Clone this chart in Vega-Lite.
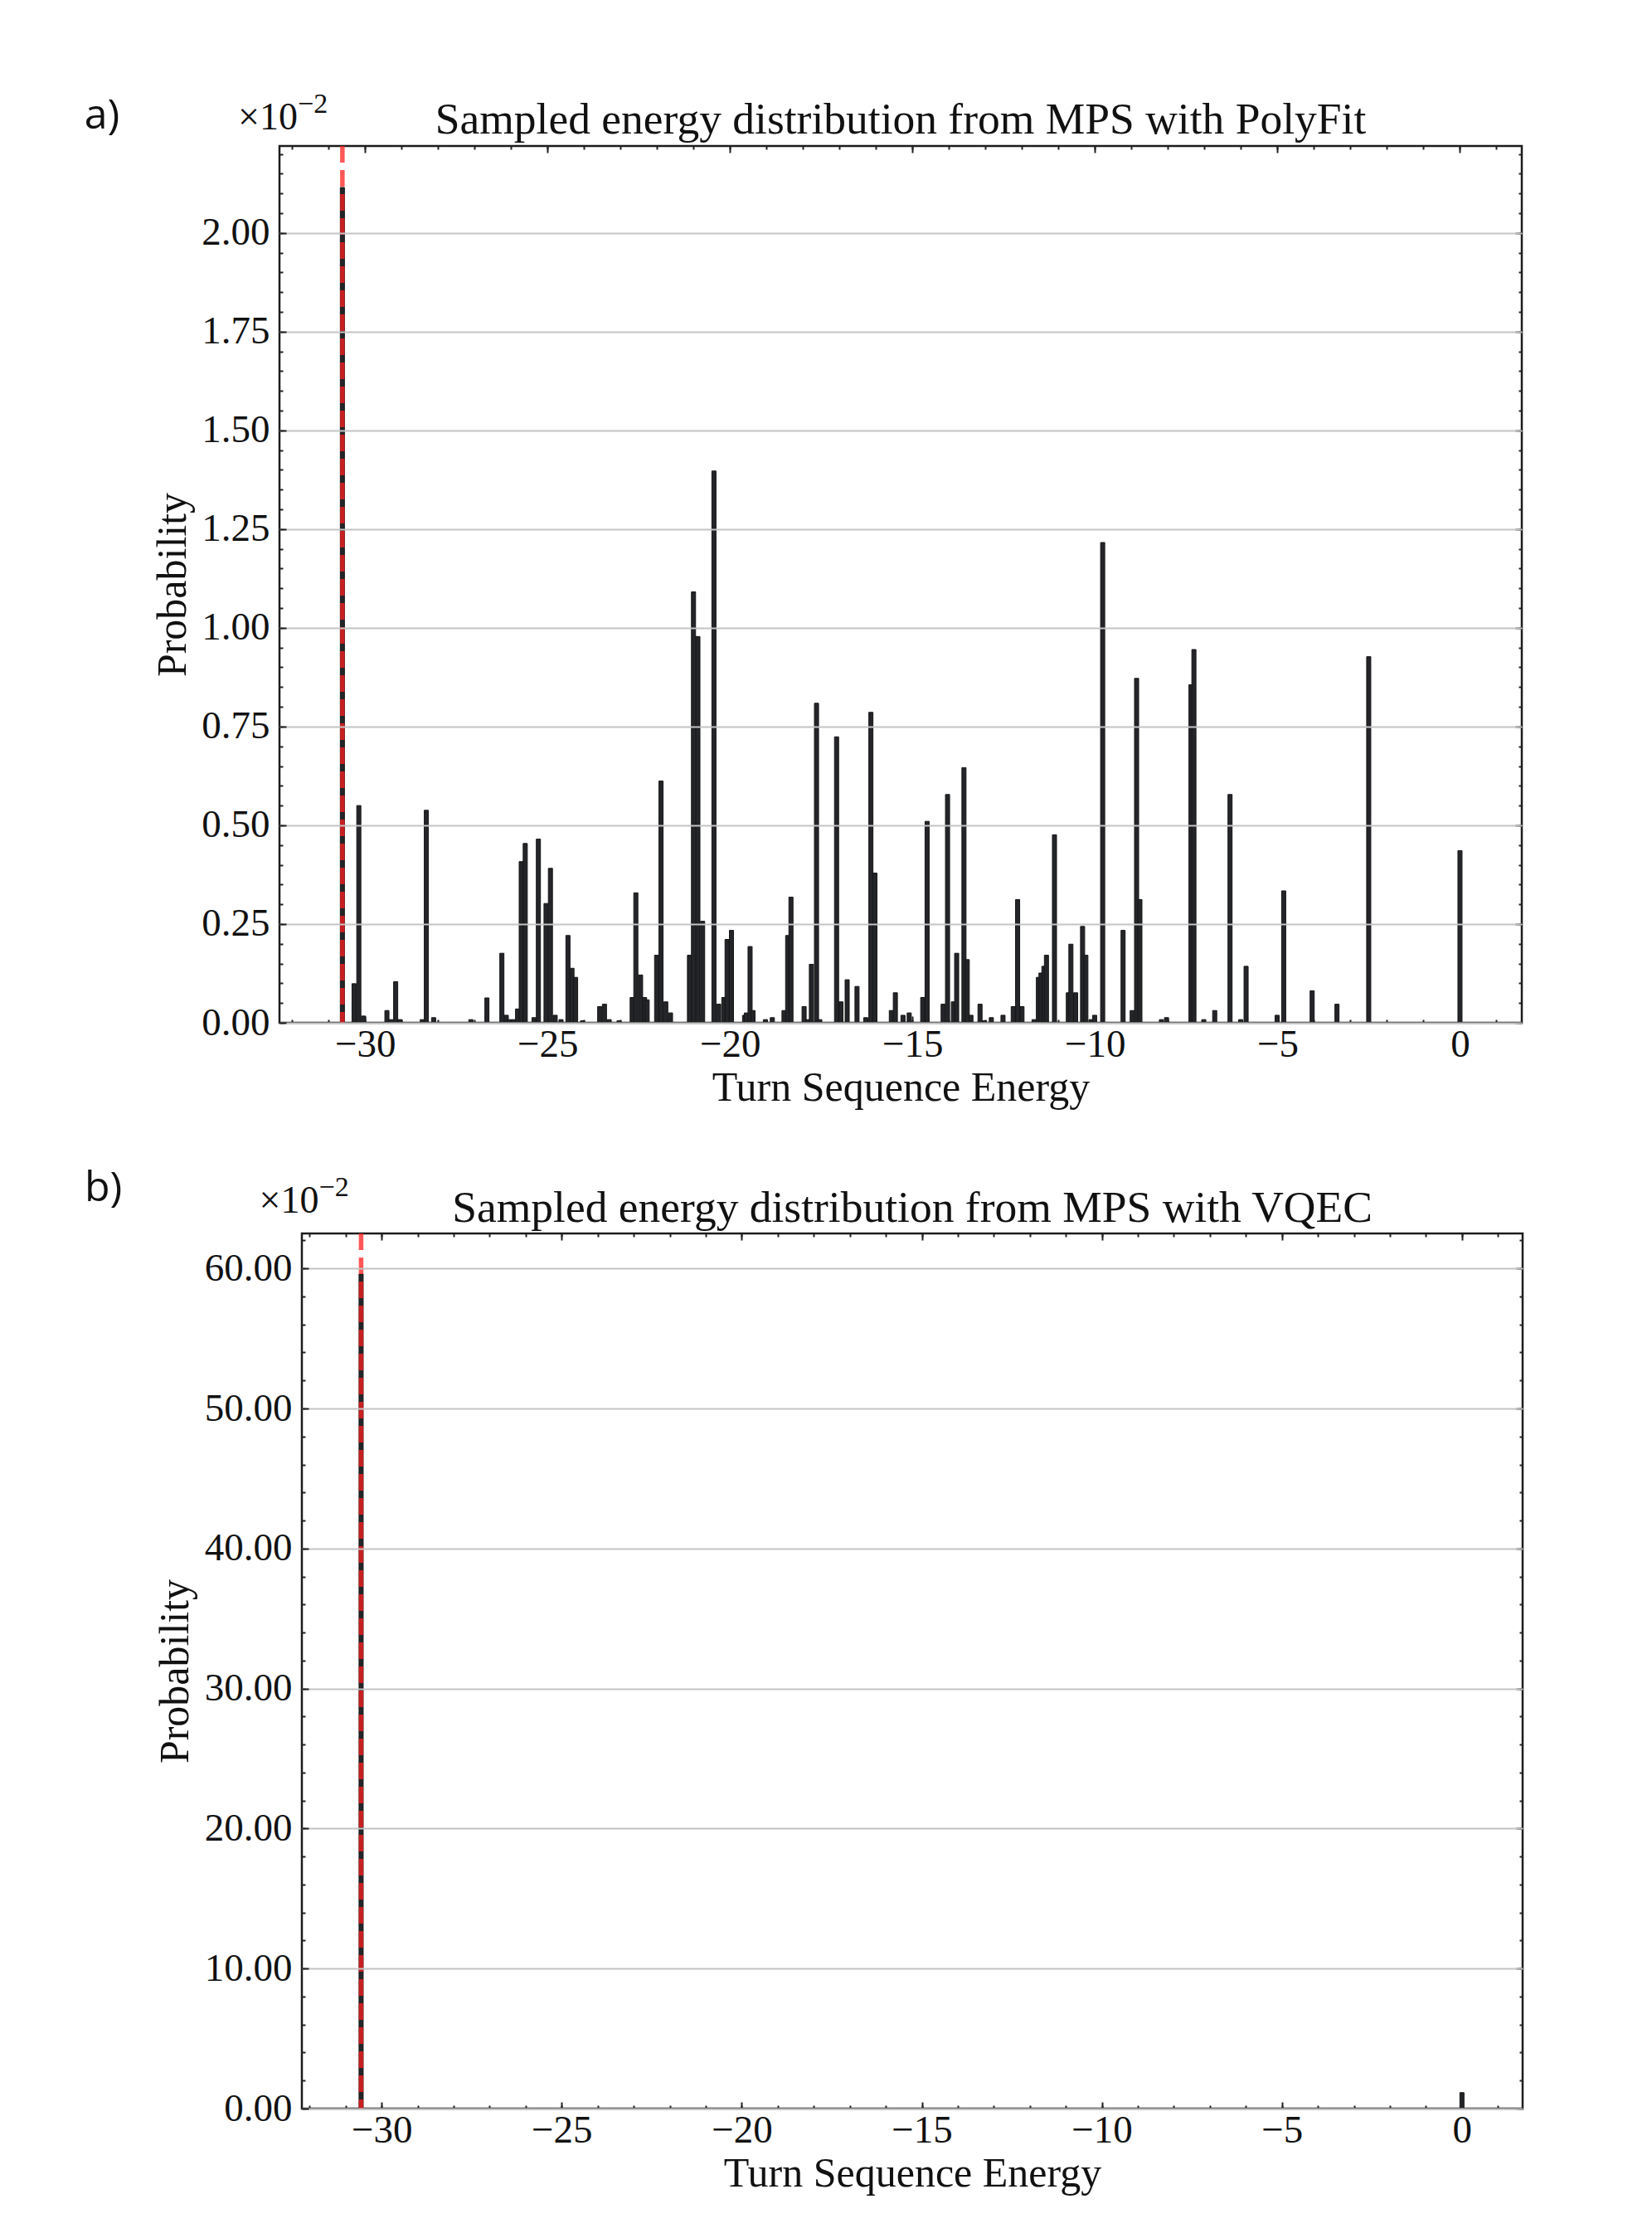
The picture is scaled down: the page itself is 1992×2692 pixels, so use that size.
{
  "$schema": "https://vega.github.io/schema/vega-lite/v6.json",
  "background": "white",
  "padding": {"left": 93, "top": 108, "right": 0, "bottom": 0},
  "config": {
    "font": "Liberation Serif",
    "view": {"stroke": "#1c1c1c", "strokeWidth": 2.5},
    "axis": {"domain": false, "grid": false, "labelFont": "Liberation Serif", "labelFontSize": 47, "labelColor": "#111111", "titleFont": "Liberation Serif", "titleFontSize": 50, "titleFontWeight": "normal", "titleColor": "#111111", "tickColor": "#222222", "tickWidth": 2}
  },
  "spacing": 68,
  "vconcat": [
    {"spacing": 0, "hconcat": [
    {"width": 1, "height": 1, "view": {"stroke": null}, "data": {"values": [{}]}, "mark": {"type": "point", "opacity": 0}},
    {
      "width": 1498,
      "height": 1057,
      "data": {"values": [
        {"E": -30.62, "P": 2.115}, {"E": -30.30, "P": 0.099}, {"E": -30.17, "P": 0.550}, {"E": -30.04, "P": 0.017},
        {"E": -29.40, "P": 0.031}, {"E": -29.29, "P": 0.008}, {"E": -29.16, "P": 0.104}, {"E": -29.04, "P": 0.008},
        {"E": -28.43, "P": 0.008}, {"E": -28.32, "P": 0.538}, {"E": -28.12, "P": 0.013}, {"E": -27.10, "P": 0.008},
        {"E": -26.66, "P": 0.063}, {"E": -26.25, "P": 0.176}, {"E": -26.13, "P": 0.019}, {"E": -26.05, "P": 0.008},
        {"E": -25.93, "P": 0.008}, {"E": -25.82, "P": 0.035}, {"E": -25.72, "P": 0.408}, {"E": -25.61, "P": 0.454},
        {"E": -25.37, "P": 0.013}, {"E": -25.25, "P": 0.465}, {"E": -25.04, "P": 0.302}, {"E": -24.92, "P": 0.391},
        {"E": -24.79, "P": 0.019}, {"E": -24.63, "P": 0.008}, {"E": -24.44, "P": 0.221}, {"E": -24.33, "P": 0.138},
        {"E": -24.23, "P": 0.115}, {"E": -24.04, "P": 0.005}, {"E": -23.57, "P": 0.041}, {"E": -23.44, "P": 0.047},
        {"E": -23.31, "P": 0.008}, {"E": -23.04, "P": 0.005}, {"E": -22.68, "P": 0.064}, {"E": -22.58, "P": 0.329},
        {"E": -22.45, "P": 0.121}, {"E": -22.34, "P": 0.064}, {"E": -22.27, "P": 0.058}, {"E": -22.01, "P": 0.171},
        {"E": -21.89, "P": 0.612}, {"E": -21.76, "P": 0.053}, {"E": -21.63, "P": 0.025}, {"E": -21.11, "P": 0.171},
        {"E": -21.00, "P": 1.091}, {"E": -20.88, "P": 0.978}, {"E": -20.75, "P": 0.257}, {"E": -20.44, "P": 1.397},
        {"E": -20.31, "P": 0.047}, {"E": -20.17, "P": 0.064}, {"E": -20.08, "P": 0.211}, {"E": -19.96, "P": 0.234},
        {"E": -19.60, "P": 0.019}, {"E": -19.55, "P": 0.025}, {"E": -19.45, "P": 0.193}, {"E": -19.37, "P": 0.031},
        {"E": -19.03, "P": 0.008}, {"E": -18.84, "P": 0.013}, {"E": -18.52, "P": 0.031}, {"E": -18.42, "P": 0.221},
        {"E": -18.33, "P": 0.318}, {"E": -17.97, "P": 0.041}, {"E": -17.87, "P": 0.008}, {"E": -17.77, "P": 0.148},
        {"E": -17.63, "P": 0.809}, {"E": -17.54, "P": 0.008}, {"E": -17.08, "P": 0.724}, {"E": -16.96, "P": 0.053},
        {"E": -16.79, "P": 0.109}, {"E": -16.52, "P": 0.092}, {"E": -16.28, "P": 0.013}, {"E": -16.14, "P": 0.786},
        {"E": -16.03, "P": 0.379}, {"E": -15.58, "P": 0.031}, {"E": -15.47, "P": 0.076}, {"E": -15.26, "P": 0.019},
        {"E": -15.09, "P": 0.025}, {"E": -14.72, "P": 0.064}, {"E": -14.60, "P": 0.510}, {"E": -14.16, "P": 0.047},
        {"E": -14.04, "P": 0.578}, {"E": -13.88, "P": 0.053}, {"E": -13.79, "P": 0.176}, {"E": -13.59, "P": 0.646},
        {"E": -13.50, "P": 0.160}, {"E": -13.40, "P": 0.019}, {"E": -13.15, "P": 0.047}, {"E": -13.03, "P": 0.005},
        {"E": -12.84, "P": 0.013}, {"E": -12.52, "P": 0.019}, {"E": -12.24, "P": 0.041}, {"E": -12.12, "P": 0.312},
        {"E": -12.00, "P": 0.041}, {"E": -11.67, "P": 0.008}, {"E": -11.55, "P": 0.115}, {"E": -11.48, "P": 0.126},
        {"E": -11.40, "P": 0.143}, {"E": -11.33, "P": 0.171}, {"E": -11.11, "P": 0.476}, {"E": -10.73, "P": 0.076},
        {"E": -10.66, "P": 0.199}, {"E": -10.53, "P": 0.076}, {"E": -10.34, "P": 0.244}, {"E": -10.25, "P": 0.171},
        {"E": -10.11, "P": 0.008}, {"E": -10.01, "P": 0.019}, {"E": -9.79, "P": 1.216}, {"E": -9.23, "P": 0.234},
        {"E": -8.98, "P": 0.031}, {"E": -8.86, "P": 0.872}, {"E": -8.77, "P": 0.312}, {"E": -8.18, "P": 0.008},
        {"E": -8.04, "P": 0.013}, {"E": -7.37, "P": 0.856}, {"E": -7.29, "P": 0.945}, {"E": -7.02, "P": 0.008},
        {"E": -6.72, "P": 0.031}, {"E": -6.30, "P": 0.578}, {"E": -6.01, "P": 0.008}, {"E": -5.86, "P": 0.143},
        {"E": -5.01, "P": 0.019}, {"E": -4.83, "P": 0.334}, {"E": -4.05, "P": 0.081}, {"E": -3.37, "P": 0.047},
        {"E": -2.50, "P": 0.927}, {"E": 0.00, "P": 0.436}
      ]},
      "resolve": {"axis": {"x": "independent", "y": "independent"}},
      "layer": [
        {
          "mark": {"type": "bar", "size": 5, "fill": "#232529", "stroke": "#161616", "strokeWidth": 1},
          "encoding": {
            "x": {"field": "E", "type": "quantitative", "scale": {"domain": [-32.23, 1.58], "nice": false, "zero": false},
              "axis": {"orient": "bottom", "values": [-30, -25, -20, -15, -10, -5, 0], "format": "d", "tickSize": -8, "labelPadding": 11, "title": "Turn Sequence Energy", "titlePadding": 4}},
            "y": {"field": "P", "type": "quantitative", "scale": {"domain": [0, 2.22], "nice": false},
              "axis": {"orient": "left", "values": [0, 0.25, 0.5, 0.75, 1, 1.25, 1.5, 1.75, 2], "format": ".2f", "tickSize": -8, "labelPadding": 20, "grid": true, "gridColor": "#c4c4c4", "gridWidth": 2, "zindex": 1, "title": "Probability", "titlePadding": 9}}
          }
        },
        {
          "mark": {"type": "point", "opacity": 0},
          "encoding": {
            "x": {"field": "E", "type": "quantitative", "scale": {"domain": [-32.23, 1.58], "nice": false, "zero": false},
              "axis": {"orient": "bottom", "values": [-32,-31,-30,-29,-28,-27,-26,-25,-24,-23,-22,-21,-20,-19,-18,-17,-16,-15,-14,-13,-12,-11,-10,-9,-8,-7,-6,-5,-4,-3,-2,-1,0,1], "labels": false, "tickSize": -4, "title": null}},
            "y": {"field": "P", "type": "quantitative", "scale": {"domain": [0, 2.22], "nice": false},
              "axis": {"orient": "left", "values": [0,0.05,0.1,0.15,0.2,0.25,0.3,0.35,0.4,0.45,0.5,0.55,0.6,0.65,0.7,0.75,0.8,0.85,0.9,0.95,1,1.05,1.1,1.15,1.2,1.25,1.3,1.35,1.4,1.45,1.5,1.55,1.6,1.65,1.7,1.75,1.8,1.85,1.9,1.95,2,2.05,2.1,2.15,2.2], "labels": false, "tickSize": -4, "title": null}}
          }
        },
        {
          "mark": {"type": "point", "opacity": 0},
          "encoding": {
            "x": {"field": "E", "type": "quantitative", "scale": {"domain": [-32.23, 1.58], "nice": false, "zero": false},
              "axis": {"orient": "top", "values": [-30, -25, -20, -15, -10, -5, 0], "labels": false, "tickSize": -8, "title": null}},
            "y": {"field": "P", "type": "quantitative", "scale": {"domain": [0, 2.22], "nice": false},
              "axis": {"orient": "right", "values": [0, 0.25, 0.5, 0.75, 1, 1.25, 1.5, 1.75, 2], "labels": false, "tickSize": -8, "title": null}}
          }
        },
        {
          "mark": {"type": "point", "opacity": 0},
          "encoding": {
            "x": {"field": "E", "type": "quantitative", "scale": {"domain": [-32.23, 1.58], "nice": false, "zero": false},
              "axis": {"orient": "top", "values": [-32,-31,-30,-29,-28,-27,-26,-25,-24,-23,-22,-21,-20,-19,-18,-17,-16,-15,-14,-13,-12,-11,-10,-9,-8,-7,-6,-5,-4,-3,-2,-1,0,1], "labels": false, "tickSize": -4, "title": null}},
            "y": {"field": "P", "type": "quantitative", "scale": {"domain": [0, 2.22], "nice": false},
              "axis": {"orient": "right", "values": [0,0.05,0.1,0.15,0.2,0.25,0.3,0.35,0.4,0.45,0.5,0.55,0.6,0.65,0.7,0.75,0.8,0.85,0.9,0.95,1,1.05,1.1,1.15,1.2,1.25,1.3,1.35,1.4,1.45,1.5,1.55,1.6,1.65,1.7,1.75,1.8,1.85,1.9,1.95,2,2.05,2.1,2.15,2.2], "labels": false, "tickSize": -4, "title": null}}
          }
        },
        {
          "data": {"values": [{}]},
          "mark": {"type": "rule", "color": "#ff1f1f", "opacity": 0.75, "strokeWidth": 5.5, "strokeDash": [20, 9]},
          "encoding": {"x": {"datum": -30.62, "type": "quantitative", "axis": null}}
        },
        {
          "data": {"values": [{}]},
          "mark": {"type": "text", "text": "Sampled energy distribution from MPS with PolyFit", "fontSize": 53.5, "align": "center", "baseline": "alphabetic", "color": "#111111"},
          "encoding": {"x": {"datum": -15.325, "type": "quantitative", "axis": null}, "y": {"datum": 2.251, "type": "quantitative", "axis": null}}
        },
        {
          "data": {"values": [{}]},
          "mark": {"type": "text", "text": "a)", "font": "Open Sans", "fontSize": 50, "align": "left", "baseline": "alphabetic", "color": "#111111"},
          "encoding": {"x": {"datum": -37.69, "type": "quantitative", "axis": null}, "y": {"datum": 2.264, "type": "quantitative", "axis": null}}
        },
        {
          "data": {"values": [{}]},
          "mark": {"type": "text", "text": "×10", "fontSize": 46, "align": "left", "baseline": "alphabetic", "color": "#111111"},
          "encoding": {"x": {"datum": -33.48, "type": "quantitative", "axis": null}, "y": {"datum": 2.261, "type": "quantitative", "axis": null}}
        },
        {
          "data": {"values": [{}]},
          "mark": {"type": "text", "text": "−2", "fontSize": 34, "align": "left", "baseline": "alphabetic", "dx": 72, "dy": -20, "color": "#111111"},
          "encoding": {"x": {"datum": -33.48, "type": "quantitative", "axis": null}, "y": {"datum": 2.261, "type": "quantitative", "axis": null}}
        }
      ]
    }
    ]},
    {"spacing": 0, "hconcat": [
    {"width": 1, "height": 1, "view": {"stroke": null}, "data": {"values": [{}]}, "mark": {"type": "point", "opacity": 0}},
    {
      "width": 1472,
      "height": 1055,
      "data": {"values": [
        {"E": -30.57, "P": 59.6}, {"E": 0.0, "P": 1.14}
      ]},
      "resolve": {"axis": {"x": "independent", "y": "independent"}},
      "layer": [
        {
          "mark": {"type": "bar", "size": 5, "fill": "#232529", "stroke": "#161616", "strokeWidth": 1},
          "encoding": {
            "x": {"field": "E", "type": "quantitative", "scale": {"domain": [-32.10, 1.57], "nice": false, "zero": false},
              "axis": {"orient": "bottom", "values": [-30, -25, -20, -15, -10, -5, 0], "format": "d", "tickSize": -8, "labelPadding": 11, "title": "Turn Sequence Energy", "titlePadding": 4}},
            "y": {"field": "P", "type": "quantitative", "scale": {"domain": [0, 62.5], "nice": false},
              "axis": {"orient": "left", "values": [0, 10, 20, 30, 40, 50, 60], "format": ".2f", "tickSize": -8, "labelPadding": 20, "grid": true, "gridColor": "#c4c4c4", "gridWidth": 2, "zindex": 1, "title": "Probability", "titlePadding": 10}}
          }
        },
        {
          "mark": {"type": "point", "opacity": 0},
          "encoding": {
            "x": {"field": "E", "type": "quantitative", "scale": {"domain": [-32.10, 1.57], "nice": false, "zero": false},
              "axis": {"orient": "bottom", "values": [-32,-31,-30,-29,-28,-27,-26,-25,-24,-23,-22,-21,-20,-19,-18,-17,-16,-15,-14,-13,-12,-11,-10,-9,-8,-7,-6,-5,-4,-3,-2,-1,0,1], "labels": false, "tickSize": -4, "title": null}},
            "y": {"field": "P", "type": "quantitative", "scale": {"domain": [0, 62.5], "nice": false},
              "axis": {"orient": "left", "values": [0,2,4,6,8,10,12,14,16,18,20,22,24,26,28,30,32,34,36,38,40,42,44,46,48,50,52,54,56,58,60,62], "labels": false, "tickSize": -4, "title": null}}
          }
        },
        {
          "mark": {"type": "point", "opacity": 0},
          "encoding": {
            "x": {"field": "E", "type": "quantitative", "scale": {"domain": [-32.10, 1.57], "nice": false, "zero": false},
              "axis": {"orient": "top", "values": [-30, -25, -20, -15, -10, -5, 0], "labels": false, "tickSize": -8, "title": null}},
            "y": {"field": "P", "type": "quantitative", "scale": {"domain": [0, 62.5], "nice": false},
              "axis": {"orient": "right", "values": [0, 10, 20, 30, 40, 50, 60], "labels": false, "tickSize": -8, "title": null}}
          }
        },
        {
          "mark": {"type": "point", "opacity": 0},
          "encoding": {
            "x": {"field": "E", "type": "quantitative", "scale": {"domain": [-32.10, 1.57], "nice": false, "zero": false},
              "axis": {"orient": "top", "values": [-32,-31,-30,-29,-28,-27,-26,-25,-24,-23,-22,-21,-20,-19,-18,-17,-16,-15,-14,-13,-12,-11,-10,-9,-8,-7,-6,-5,-4,-3,-2,-1,0,1], "labels": false, "tickSize": -4, "title": null}},
            "y": {"field": "P", "type": "quantitative", "scale": {"domain": [0, 62.5], "nice": false},
              "axis": {"orient": "right", "values": [0,2,4,6,8,10,12,14,16,18,20,22,24,26,28,30,32,34,36,38,40,42,44,46,48,50,52,54,56,58,60,62], "labels": false, "tickSize": -4, "title": null}}
          }
        },
        {
          "data": {"values": [{}]},
          "mark": {"type": "rule", "color": "#ff1f1f", "opacity": 0.75, "strokeWidth": 5.5, "strokeDash": [20, 9]},
          "encoding": {"x": {"datum": -30.57, "type": "quantitative", "axis": null}}
        },
        {
          "data": {"values": [{}]},
          "mark": {"type": "text", "text": "Sampled energy distribution from MPS with VQEC", "fontSize": 53.5, "align": "center", "baseline": "alphabetic", "color": "#111111"},
          "encoding": {"x": {"datum": -15.265, "type": "quantitative", "axis": null}, "y": {"datum": 63.33, "type": "quantitative", "axis": null}}
        },
        {
          "data": {"values": [{}]},
          "mark": {"type": "text", "text": "b)", "font": "Open Sans", "fontSize": 50, "align": "left", "baseline": "alphabetic", "color": "#111111"},
          "encoding": {"x": {"datum": -38.25, "type": "quantitative", "axis": null}, "y": {"datum": 64.83, "type": "quantitative", "axis": null}}
        },
        {
          "data": {"values": [{}]},
          "mark": {"type": "text", "text": "×10", "fontSize": 46, "align": "left", "baseline": "alphabetic", "color": "#111111"},
          "encoding": {"x": {"datum": -33.40, "type": "quantitative", "axis": null}, "y": {"datum": 63.98, "type": "quantitative", "axis": null}}
        },
        {
          "data": {"values": [{}]},
          "mark": {"type": "text", "text": "−2", "fontSize": 34, "align": "left", "baseline": "alphabetic", "dx": 72, "dy": -20, "color": "#111111"},
          "encoding": {"x": {"datum": -33.40, "type": "quantitative", "axis": null}, "y": {"datum": 63.98, "type": "quantitative", "axis": null}}
        }
      ]
    }
    ]}
  ]
}
